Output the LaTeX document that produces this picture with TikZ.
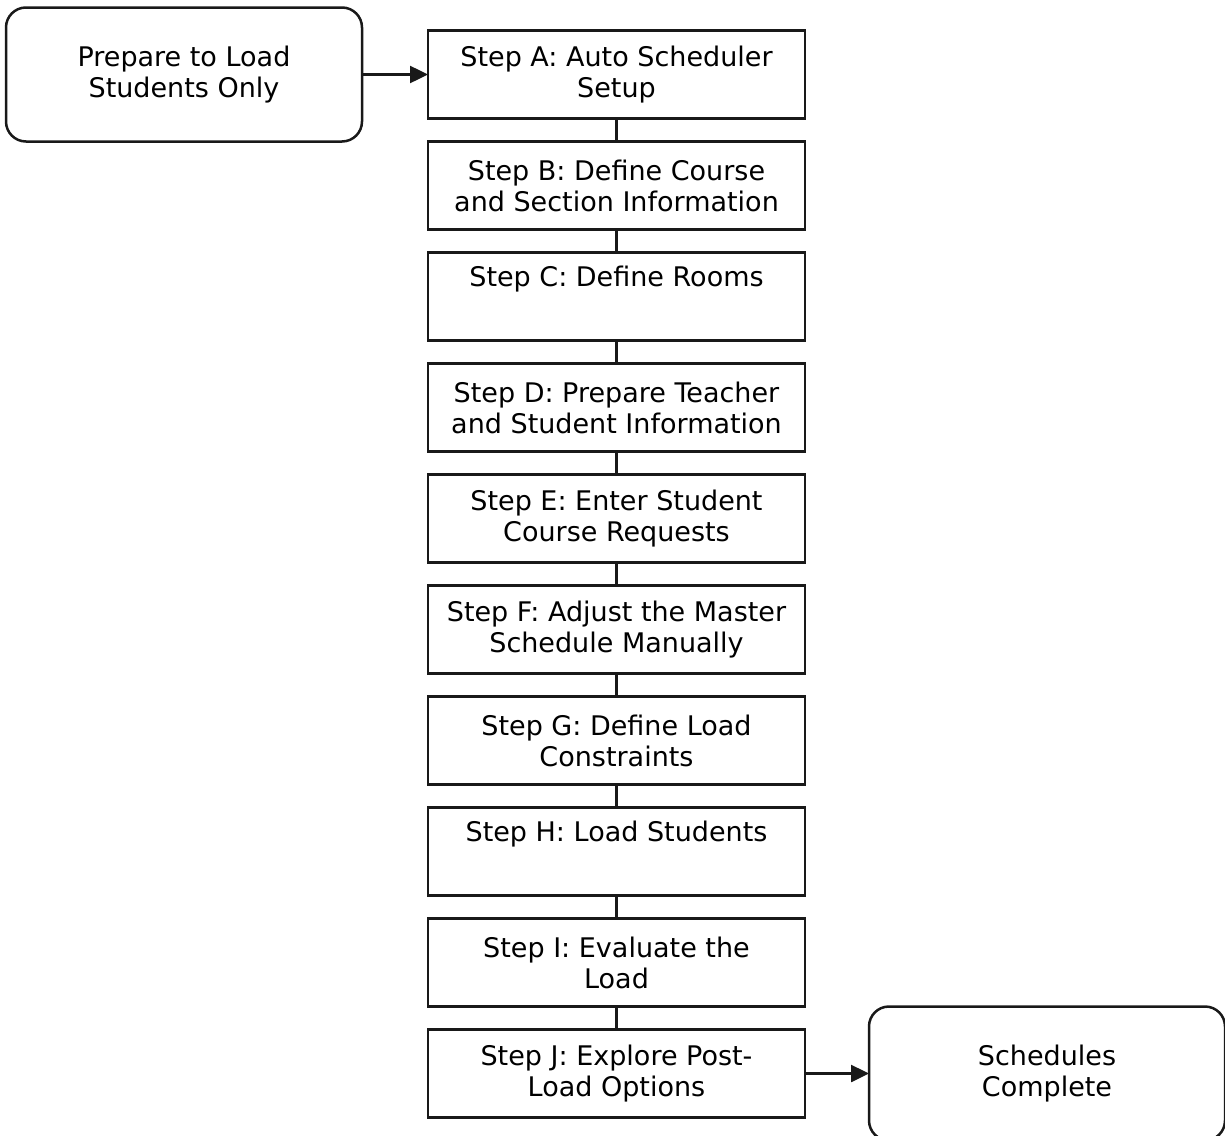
\documentclass[tikz,border=0pt]{standalone}
\usepackage{fontspec}
\setmainfont{DejaVu Sans}
\usetikzlibrary{arrows.meta}

\begin{document}
\begin{tikzpicture}[
    x=0.5pt, y=-0.5pt
    , stepbox/.style = {rectangle,draw=black!90,line width=1.25pt,minimum width=188.5pt,minimum height=44pt,inner sep=0pt,outer sep=0mm,align=center,font=\fontsize{13.5}{15.5}\selectfont}
    , endbox/.style = {stepbox,rounded corners=10pt,minimum width=178pt,minimum height=67pt}
    , link/.style = {draw=black!90,line width=1.25pt}
]
\useasboundingbox (0,0) rectangle (1225,1135);
\node[endbox] (start) at (184,74.5) {Prepare to Load\\Students Only};
\foreach \t [count=\j from 0] in {{Step A: Auto Scheduler\\Setup}, {Step B: Define Course\\and Section Information}, {Step C: Define Rooms\\\strut}, {Step D: Prepare Teacher\\and Student Information}, {Step E: Enter Student\\Course Requests}, {Step F: Adjust the Master\\Schedule Manually}, {Step G: Define Load\\Constraints}, {Step H: Load Students\\\strut}, {Step I: Evaluate the\\Load}, {Step J: Explore Post-\\Load Options}}
    \node[stepbox] (s\j) at (616.5, 74.5+111*\j) {\t};
\node[endbox] (end) at (1047,1073.5) {Schedules\\Complete};
\foreach \i [count=\j from 1] in {0,...,8}
    \draw[link] (s\i) -- (s\j);
\draw[link,-{Triangle[length=9pt,width=8.5pt]}] (start) -- (s0);
\draw[link,-{Triangle[length=9pt,width=8.5pt]}] (s9) -- (end);
\end{tikzpicture}
\end{document}
